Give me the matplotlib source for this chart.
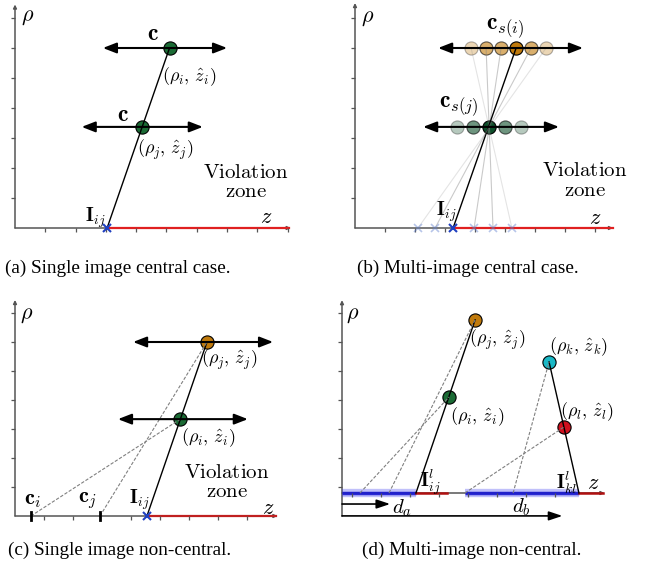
import matplotlib
matplotlib.use('Agg')
import matplotlib.pyplot as plt

plt.rcParams['mathtext.fontset'] = 'cm'

W, H = 652, 573

# ---- panel (a): single image central case ----
a_hit = 3.04
a_pts_z = [5.1, 4.18]
a_pts_rho = [6.0, 3.37]
a_arrow_left = [2.9, 2.2]
a_arrow_right = [7.0, 6.2]

# ---- panel (b): multi-image central case ----
b_top_z = [3.87, 4.37, 4.87, 5.37, 5.87, 6.37]
b_top_alpha = [0.3, 0.6, 0.6, 1.0, 0.6, 0.3]
b_top_rho = 6.0
b_low_z = [3.4, 3.95, 4.47, 5.0, 5.55]
b_low_alpha = [0.3, 0.6, 1.0, 0.6, 0.3]
b_low_rho = 3.37
b_hits = [5.23, 4.6, 3.97, 3.27, 2.67, 2.1]   # one per top circle
b_main = 3
b_arrow_left = [2.77, 2.27]
b_arrow_right = [7.6, 6.8]

# ---- panel (c): single image non-central ----
c_hit = 4.55
c_pts_z = [6.62, 5.7]       # j (orange), i (green)
c_pts_rho = [6.0, 3.34]
c_centers = [2.93, 0.55]    # c_j, c_i
c_arrow_left = [4.07, 3.55]
c_arrow_right = [8.9, 8.03]

# ---- panel (d): multi-image non-central ----
d_pts_z = [4.59, 3.69, 7.14, 7.66]      # j, i, k, l
d_pts_rho = [5.97, 3.31, 4.52, 2.28]
d_feet = [1.62, 0.62, 5.9, 4.24]        # dashed rays hit the axis
d_hits = [2.55, 8.17]                    # I_ij, I_kl
d_blue = [(0.0, 2.55), (4.24, 8.17)]
d_red = [(2.55, 3.62), (8.17, 9.0)]
d_da = 1.66
d_db = 7.6

axc = '#555555'
orange = '#c07a0c'
green = '#1b6b35'
dgreen = '#0d4f2a'
cyan = '#1ab8c6'
red = '#d0101e'
blue = '#2040c0'

fig = plt.figure(figsize=(W / 100, H / 100), dpi=100)


def panel(ox, oy, sx, sy, xlim, ylim):
    l = ox + xlim[0] * sx
    r = ox + xlim[1] * sx
    b = oy - ylim[0] * sy
    t = oy - ylim[1] * sy
    ax = fig.add_axes([l / W, 1 - b / H, (r - l) / W, (b - t) / H])
    ax.set_xlim(xlim)
    ax.set_ylim(ylim)
    ax.axis('off')
    return ax


def frame(ax, xend, yend, xt, yt, ybot=0.0):
    ap = dict(arrowstyle='-|>', color=axc, lw=1.1, mutation_scale=5,
              shrinkA=0, shrinkB=0)
    ax.annotate('', xy=(xend, 0), xytext=(0, 0), arrowprops=ap, zorder=1)
    ax.annotate('', xy=(0, yend), xytext=(0, ybot), arrowprops=ap, zorder=1)
    ax.plot(xt, [0] * len(xt), ls='', marker=3, ms=3, color=axc, mew=0.9)
    ax.plot([0] * len(yt), yt, ls='', marker=0, ms=3, color=axc, mew=0.9)


def harrow(ax, x0, x1, y):
    ax.annotate('', xy=(x1, y), xytext=(x0, y), zorder=4,
                arrowprops=dict(arrowstyle='<|-|>,head_length=0.9,head_width=0.35',
                                color='black', lw=1.5, mutation_scale=9,
                                shrinkA=0, shrinkB=0))


def dot(ax, x, y, c, alpha=1.0):
    ax.plot(x, y, 'o', ms=9.5, mfc=c, mec='black', mew=0.8, alpha=alpha, zorder=2)


def violation(ax, x, y):
    ax.text(x, y, '$\\mathrm{Violation}$\n$\\mathrm{zone}$', fontsize=15,
            ha='center', va='center', linespacing=0.95)


lab = 13

# ===== (a) =====
ax = panel(15, 228, 30.3, 30, (-0.5, 9.4), (-0.6, 7.7))
frame(ax, 9.1, 7.45, list(range(1, 10)), list(range(1, 8)))
ax.plot([a_hit, 9.05], [0, 0], color='#e02020', lw=1.6, zorder=1.5)
for z, r in zip(a_pts_z, a_pts_rho):
    dot(ax, z, r, green)
ax.plot([a_hit, a_pts_z[0]], [0, a_pts_rho[0]], color='black', lw=1.0, zorder=3)
for x0, x1, r in zip(a_arrow_left, a_arrow_right, a_pts_rho):
    harrow(ax, x0, x1, r)
ax.plot(a_hit, 0, 'x', color=blue, ms=6, mew=1.5, zorder=5)
ax.text(0.43, 7.03, r'$\rho$', fontsize=16, ha='center', va='center')
ax.text(4.55, 6.5, r'$\mathbf{c}$', fontsize=17, ha='center', va='center')
ax.text(3.57, 3.8, r'$\mathbf{c}$', fontsize=17, ha='center', va='center')
ax.text(5.75, 5.03, r'$(\rho_i,\,\hat{z}_i)$', fontsize=lab, ha='center', va='center')
ax.text(4.95, 2.6, r'$(\rho_j,\,\hat{z}_j)$', fontsize=lab, ha='center', va='center')
violation(ax, 7.62, 1.56)
ax.text(8.3, 0.37, r'$z$', fontsize=16, ha='center', va='center')
ax.text(2.64, 0.33, r'$\mathbf{I}_{ij}$', fontsize=14, ha='center', va='center')

# ===== (b) =====
ax = panel(355, 228, 30, 30, (-0.5, 9.0), (-0.6, 7.7))
frame(ax, 8.6, 7.5, list(range(1, 9)), list(range(1, 8)))
ax.plot([b_hits[b_main], 8.6], [0, 0], color='#e02020', lw=1.6, zorder=1.5)
for z, a in zip(b_top_z, b_top_alpha):
    dot(ax, z, b_top_rho, orange, a)
for z, a in zip(b_low_z, b_low_alpha):
    dot(ax, z, b_low_rho, dgreen, a)
for k, (z, h, a) in enumerate(zip(b_top_z, b_hits, b_top_alpha)):
    if k == b_main:
        ax.plot([h, z], [0, b_top_rho], color='black', lw=1.0, zorder=3)
        ax.plot(h, 0, 'x', color=blue, ms=6, mew=1.5, zorder=5)
    else:
        ax.plot([h, z], [0, b_top_rho], color='gray', lw=0.8, alpha=a * 0.7, zorder=3)
        ax.plot(h, 0, 'x', color='#6080d0', ms=6, mew=1.2, alpha=0.45, zorder=5)
harrow(ax, b_arrow_left[0], b_arrow_right[0], b_top_rho)
harrow(ax, b_arrow_left[1], b_arrow_right[1], b_low_rho)
ax.text(0.43, 7.0, r'$\rho$', fontsize=16, ha='center', va='center')
ax.text(5.0, 6.67, r'$\mathbf{c}_{s(i)}$', fontsize=17, ha='center', va='center')
ax.text(3.47, 4.07, r'$\mathbf{c}_{s(j)}$', fontsize=17, ha='center', va='center')
violation(ax, 7.65, 1.6)
ax.text(8.0, 0.33, r'$z$', fontsize=16, ha='center', va='center')
ax.text(3.03, 0.53, r'$\mathbf{I}_{ij}$', fontsize=14, ha='center', va='center')

# ===== (c) =====
ax = panel(15, 516, 29, 29, (-0.5, 9.5), (-0.6, 7.7))
frame(ax, 9.05, 7.45, [1.0, 2.0, 4.0, 5.0, 6.0, 7.0, 8.0], list(range(1, 8)))
ax.plot([c_hit, 9.0], [0, 0], color='#c02020', lw=1.6, zorder=1.5)
dot(ax, c_pts_z[0], c_pts_rho[0], orange)
dot(ax, c_pts_z[1], c_pts_rho[1], green)
ax.plot([c_hit, c_pts_z[0]], [0, c_pts_rho[0]], color='black', lw=1.0, zorder=3)
for cz, z, r in zip(c_centers, c_pts_z, c_pts_rho):
    ax.plot([cz, z], [0, r], color='gray', lw=0.8, ls=(0, (3, 1.5)), zorder=3)
    ax.plot([cz, cz], [-0.15, 0.15], color='black', lw=2.0, zorder=4)
for x0, x1, r in zip(c_arrow_left, c_arrow_right, c_pts_rho):
    harrow(ax, x0, x1, r)
ax.plot(c_hit, 0, 'x', color=blue, ms=6, mew=1.5, zorder=5)
ax.text(0.4, 6.93, r'$\rho$', fontsize=16, ha='center', va='center')
ax.text(7.38, 5.38, r'$(\rho_j,\,\hat{z}_j)$', fontsize=lab, ha='center', va='center')
ax.text(6.66, 2.69, r'$(\rho_i,\,\hat{z}_i)$', fontsize=lab, ha='center', va='center')
violation(ax, 7.3, 1.2)
ax.text(8.73, 0.28, r'$z$', fontsize=16, ha='center', va='center')
ax.text(4.3, 0.55, r'$\mathbf{I}_{ij}$', fontsize=14, ha='center', va='center')
ax.text(0.62, 0.55, r'$\mathbf{c}_i$', fontsize=16, ha='center', va='center')
ax.text(2.5, 0.55, r'$\mathbf{c}_j$', fontsize=16, ha='center', va='center')

# ===== (d) =====
ax = panel(342, 493, 29, 29, (-0.5, 9.6), (-1.2, 7.0))
frame(ax, 9.05, 6.65, [0.34 + k for k in range(8)], [0.2 + k for k in range(7)],
      ybot=-0.8)
for x0, x1 in d_blue:
    ax.plot([x0, x1], [0, 0], color='#3030f0', lw=6, alpha=0.3, zorder=1.4,
            solid_capstyle='butt')
    ax.plot([x0, x1], [0, 0], color='#1a1ad0', lw=2.5, alpha=0.9, zorder=1.5,
            solid_capstyle='butt')
for x0, x1 in d_red:
    ax.plot([x0, x1], [0, 0], color='#b01010', lw=1.8, zorder=1.5)
for z, r, c in zip(d_pts_z, d_pts_rho, [orange, green, cyan, red]):
    dot(ax, z, r, c)
ax.plot([d_hits[0], d_pts_z[0]], [0, d_pts_rho[0]], color='black', lw=1.0, zorder=3)
ax.plot([d_hits[1], d_pts_z[2]], [0, d_pts_rho[2]], color='black', lw=1.0, zorder=3)
for f, z, r in zip(d_feet, d_pts_z, d_pts_rho):
    ax.plot([f, z], [0, r], color='gray', lw=0.8, ls=(0, (3, 1.5)), zorder=3)
ap = dict(arrowstyle='-|>,head_length=0.9,head_width=0.3', color='black', lw=1.2,
          mutation_scale=9, shrinkA=0, shrinkB=0)
ax.annotate('', xy=(d_da, -0.38), xytext=(0, -0.38), arrowprops=ap)
ax.annotate('', xy=(d_db, -0.79), xytext=(0, -0.79), arrowprops=ap)
ax.text(0.38, 6.14, r'$\rho$', fontsize=16, ha='center', va='center')
ax.text(5.34, 5.28, r'$(\rho_j,\,\hat{z}_j)$', fontsize=lab, ha='center', va='center')
ax.text(8.14, 5.03, r'$(\rho_k,\,\hat{z}_k)$', fontsize=lab, ha='center', va='center')
ax.text(4.66, 2.62, r'$(\rho_i,\,\hat{z}_i)$', fontsize=lab, ha='center', va='center')
ax.text(8.45, 2.79, r'$(\rho_l,\,\hat{z}_l)$', fontsize=lab, ha='center', va='center')
ax.text(3.03, 0.36, r'$\mathbf{I}^l_{ij}$', fontsize=14, ha='center', va='center')
ax.text(7.76, 0.36, r'$\mathbf{I}^l_{kl}$', fontsize=14, ha='center', va='center')
ax.text(8.66, 0.36, r'$z$', fontsize=16, ha='center', va='center')
ax.text(2.07, -0.52, r'$d_a$', fontsize=15, ha='center', va='center')
ax.text(6.2, -0.48, r'$d_b$', fontsize=15, ha='center', va='center')

# captions
cap = dict(family='Liberation Serif', fontsize=13.8, ha='center', va='center')
fig.text(118 / W, 1 - 268 / H, '(a) Single image central case.', **cap)
fig.text(468 / W, 1 - 268 / H, '(b) Multi-image central case.', **cap)
fig.text(120 / W, 1 - 550 / H, '(c) Single image non-central.', **cap)
fig.text(472 / W, 1 - 550 / H, '(d) Multi-image non-central.', **cap)

fig.savefig('out.png', dpi=100)
